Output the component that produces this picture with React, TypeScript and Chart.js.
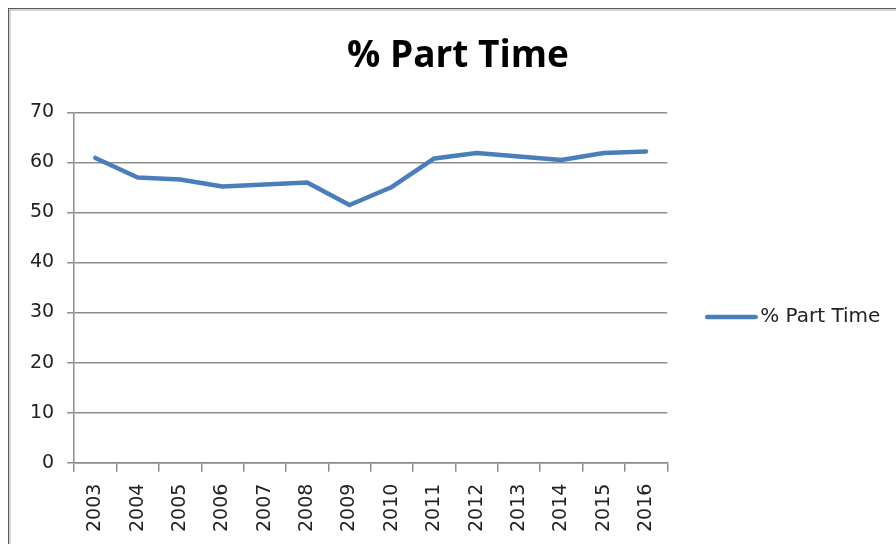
import React, { useEffect, useRef } from "react";
import { Chart, registerables } from "chart.js";

Chart.register(...registerables);

const years = ["2003","2004","2005","2006","2007","2008","2009","2010","2011","2012","2013","2014","2015","2016"];
const partTime = [60.9, 57.0, 56.6, 55.2, 55.6, 56.0, 51.5, 55.1, 60.8, 61.9, 61.2, 60.5, 61.9, 62.2];
const seriesName = "% Part Time";
const chartTitle = "% Part Time";

const lineColor = "#4a7ebb";
const gridColor = "#8c8c8c";

function makeLegendLine(width: number, thickness: number) {
  const c = document.createElement("canvas");
  c.width = width;
  c.height = 8;
  const g = c.getContext("2d");
  if (g) {
    g.strokeStyle = lineColor;
    g.lineWidth = thickness;
    g.lineCap = "round";
    g.beginPath();
    g.moveTo(thickness / 2, 4);
    g.lineTo(width - thickness / 2, 4);
    g.stroke();
  }
  return c;
}

// Center the title over the whole chart frame (like the spreadsheet chart), not just the padded box
const centerTitlePlugin = {
  id: "centerTitleOverFrame",
  afterLayout(chart: any) {
    const t = chart.titleBlock;
    if (t) {
      t.left = 0;
      t.right = chart.width - 2;
    }
  },
};

export default function App() {
  const ref = useRef<HTMLCanvasElement | null>(null);
  useEffect(() => {
    if (!ref.current) return;
    const tickFont = { family: "'DejaVu Sans', Verdana, sans-serif", size: 19 };
    const legendFont = { family: "'DejaVu Sans', Verdana, sans-serif", size: 20 };
    const legendImg = makeLegendLine(53, 4.5);
    const chart = new Chart(ref.current, {
      type: "line",
      data: {
        labels: years,
        datasets: [
          {
            label: seriesName,
            data: partTime,
            borderColor: lineColor,
            backgroundColor: lineColor,
            borderWidth: 4.5,
            pointRadius: 0,
            pointHoverRadius: 0,
            tension: 0,
            borderJoinStyle: "round",
            borderCapStyle: "round",
          },
        ],
      },
      plugins: [centerTitlePlugin],
      options: {
        responsive: false,
        animation: false,
        layout: { padding: { left: 8, right: 25, top: 0, bottom: 1 } },
        plugins: {
          title: {
            display: true,
            text: chartTitle,
            color: "#000",
            font: { family: "'Open Sans', sans-serif", size: 37, weight: "bold" },
            padding: { top: 25, bottom: 34 },
          },
          legend: {
            position: "right",
            title: {
              display: true,
              text: " ",
              font: { size: 10 },
              padding: { top: 0, bottom: 69 },
            },
            labels: {
              usePointStyle: true,
              pointStyle: legendImg,
              pointStyleWidth: 38,
              color: "#222",
              font: legendFont,
              padding: 45,
            },
          },
          tooltip: { enabled: false },
        },
        scales: {
          x: {
            offset: true,
            grid: {
              offset: true,
              drawOnChartArea: false,
              tickLength: 9,
              color: gridColor,
              lineWidth: 1.5,
            },
            border: { color: gridColor, width: 1.5 },
            ticks: {
              color: "#222",
              font: tickFont,
              minRotation: 90,
              maxRotation: 90,
              padding: 12,
              autoSkip: false,
            },
          },
          y: {
            min: 0,
            max: 70,
            grid: { color: gridColor, lineWidth: 1.5, tickLength: 7 },
            border: { color: gridColor, width: 1.5 },
            ticks: { stepSize: 10, color: "#222", font: tickFont, padding: 13 },
          },
        },
      },
    });
    return () => chart.destroy();
  }, []);

  return (
    <div style={{ position: "fixed", left: 0, top: 0, width: 896, height: 544, overflow: "hidden", background: "#fff" }}>
      <div
        style={{
          position: "absolute",
          left: 8,
          top: 8,
          width: 900,
          height: 560,
          borderLeft: "1px solid #5a5a5a",
          borderTop: "1px solid #5a5a5a",
          boxShadow: "inset 2px 2px 0 #d4d4d4",
          background: "#fff",
        }}
      >
        <canvas ref={ref} width={900} height={536} style={{ position: "absolute", left: 0, top: 0, width: 900, height: 536 }} />
      </div>
    </div>
  );
}
